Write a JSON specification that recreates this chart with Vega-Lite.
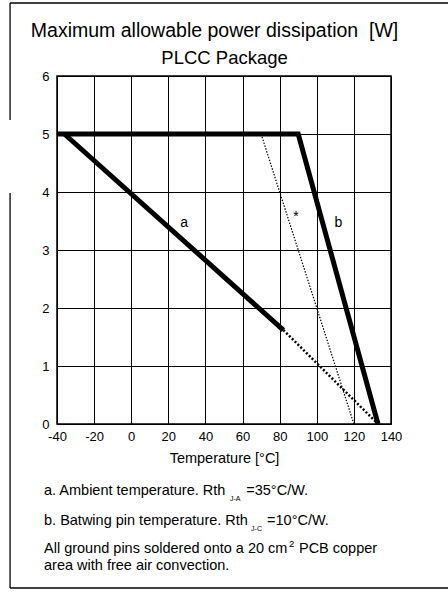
{
  "$schema": "https://vega.github.io/schema/vega-lite/v6.json",
  "autosize": {"type": "none"},
  "padding": {"left": 57, "top": 76, "right": 57, "bottom": 168},
  "width": 334,
  "height": 348,
  "background": "white",
  "datasets": {
    "curves": [
      {"series": "b", "x": -40, "y": 5},
      {"series": "b", "x": 90, "y": 5},
      {"series": "b", "x": 133, "y": 0},
      {"series": "a", "x": -36, "y": 5},
      {"series": "a", "x": 82, "y": 1.62},
      {"series": "a_ext", "x": 82, "y": 1.62},
      {"series": "a_ext", "x": 133, "y": 0},
      {"series": "star", "x": 70, "y": 5},
      {"series": "star", "x": 120, "y": 0}
    ],
    "curve_labels": [
      {"x": 28.5, "y": 3.46, "text": "a"},
      {"x": 111.6, "y": 3.46, "text": "b"},
      {"x": 88.8, "y": 3.57, "text": "*"}
    ],
    "title_main": [
      {"x": 44.9, "y": 6.678, "text": "Maximum allowable power dissipation \u00a0[W]"}
    ],
    "title_sub": [
      {"x": 50.3, "y": 6.207, "text": "PLCC Package"}
    ],
    "notes": [
      {"x": -47, "y": -1.224, "text": "a. Ambient temperature. Rth"},
      {"x": 62.0, "y": -1.224, "text": "=35°C/W."},
      {"x": -47, "y": -1.733, "text": "b. Batwing pin temperature. Rth"},
      {"x": 73.2, "y": -1.733, "text": "=10°C/W."},
      {"x": -47, "y": -2.224, "text": "All ground pins soldered onto a 20 cm"},
      {"x": 90.4, "y": -2.224, "text": "PCB copper"},
      {"x": -47, "y": -2.517, "text": "area with free air convection."}
    ],
    "subs": [
      {"x": 53.2, "y": -1.336, "text": "J-A"},
      {"x": 64.6, "y": -1.845, "text": "J-C"}
    ],
    "sups": [
      {"x": 85.0, "y": -2.121, "text": "2"}
    ],
    "frame": [
      {"x": -65.3, "y": 7.259, "x2": 171, "y2": 7.259},
      {"x": -65.3, "y": -2.828, "x2": 171, "y2": -2.828},
      {"x": -65.3, "y": 7.259, "x2": -65.3, "y2": 5.241},
      {"x": -65.3, "y": 3.983, "x2": -65.3, "y2": -2.828}
    ]
  },
  "encoding": {
    "x": {
      "field": "x",
      "type": "quantitative",
      "scale": {"domain": [-40, 140], "nice": false, "zero": false},
      "axis": {
        "values": [-40, -20, 0, 20, 40, 60, 80, 100, 120, 140],
        "labelExpr": "datum.value + ''",
        "grid": true,
        "gridColor": "black",
        "gridWidth": 1,
        "gridOpacity": 1,
        "ticks": false,
        "domain": false,
        "labelPadding": 6,
        "labelFlush": false,
        "labelOverlap": false,
        "labelFont": "Liberation Sans",
        "labelFontSize": 13,
        "labelColor": "black",
        "title": "Temperature [°C]",
        "titleFont": "Liberation Sans",
        "titleFontSize": 14.5,
        "titleFontWeight": "normal",
        "titleColor": "black",
        "titlePadding": 8
      }
    },
    "y": {
      "field": "y",
      "type": "quantitative",
      "scale": {"domain": [0, 6], "nice": false, "zero": false},
      "axis": {
        "values": [0, 1, 2, 3, 4, 5, 6],
        "grid": true,
        "gridColor": "black",
        "gridWidth": 1,
        "gridOpacity": 1,
        "ticks": false,
        "domain": false,
        "labelPadding": 8,
        "labelFlush": false,
        "labelOverlap": false,
        "labelFont": "Liberation Sans",
        "labelFontSize": 13,
        "labelColor": "black",
        "title": null
      }
    }
  },
  "layer": [
    {
      "data": {"name": "curves"},
      "transform": [{"filter": "datum.series === 'star'"}],
      "mark": {"type": "line", "color": "black", "strokeWidth": 1.2, "strokeDash": [1.5, 1.5]}
    },
    {
      "data": {"name": "curves"},
      "transform": [{"filter": "datum.series === 'a_ext'"}],
      "mark": {"type": "line", "color": "black", "strokeWidth": 2.5, "strokeDash": [2, 2]}
    },
    {
      "data": {"name": "curves"},
      "transform": [{"filter": "datum.series === 'a'"}],
      "mark": {"type": "line", "color": "black", "strokeWidth": 5, "strokeCap": "butt"}
    },
    {
      "data": {"name": "curves"},
      "transform": [{"filter": "datum.series === 'b'"}],
      "mark": {"type": "line", "color": "black", "strokeWidth": 5, "strokeCap": "butt", "strokeJoin": "miter"}
    },
    {
      "data": {"name": "curve_labels"},
      "mark": {"type": "text", "font": "Liberation Sans", "fontSize": 14, "color": "black", "baseline": "middle", "align": "center"},
      "encoding": {"text": {"field": "text"}}
    },
    {
      "data": {"name": "title_main"},
      "mark": {"type": "text", "font": "Liberation Sans", "fontSize": 19.5, "color": "black", "baseline": "alphabetic", "align": "center"},
      "encoding": {"text": {"field": "text"}}
    },
    {
      "data": {"name": "title_sub"},
      "mark": {"type": "text", "font": "Liberation Sans", "fontSize": 18.5, "color": "black", "baseline": "alphabetic", "align": "center"},
      "encoding": {"text": {"field": "text"}}
    },
    {
      "data": {"name": "notes"},
      "mark": {"type": "text", "font": "Liberation Sans", "fontSize": 14.5, "color": "black", "baseline": "alphabetic", "align": "left"},
      "encoding": {"text": {"field": "text"}}
    },
    {
      "data": {"name": "subs"},
      "mark": {"type": "text", "font": "Liberation Sans", "fontSize": 7, "color": "black", "baseline": "alphabetic", "align": "left"},
      "encoding": {"text": {"field": "text"}}
    },
    {
      "data": {"name": "sups"},
      "mark": {"type": "text", "font": "Liberation Sans", "fontSize": 9.5, "color": "black", "baseline": "alphabetic", "align": "left"},
      "encoding": {"text": {"field": "text"}}
    },
    {
      "data": {"name": "frame"},
      "mark": {"type": "rule", "color": "black", "strokeWidth": 1.3},
      "encoding": {
        "x2": {"field": "x2"},
        "y2": {"field": "y2"}
      }
    }
  ],
  "config": {
    "view": {"stroke": "black", "strokeWidth": 1.5}
  }
}
